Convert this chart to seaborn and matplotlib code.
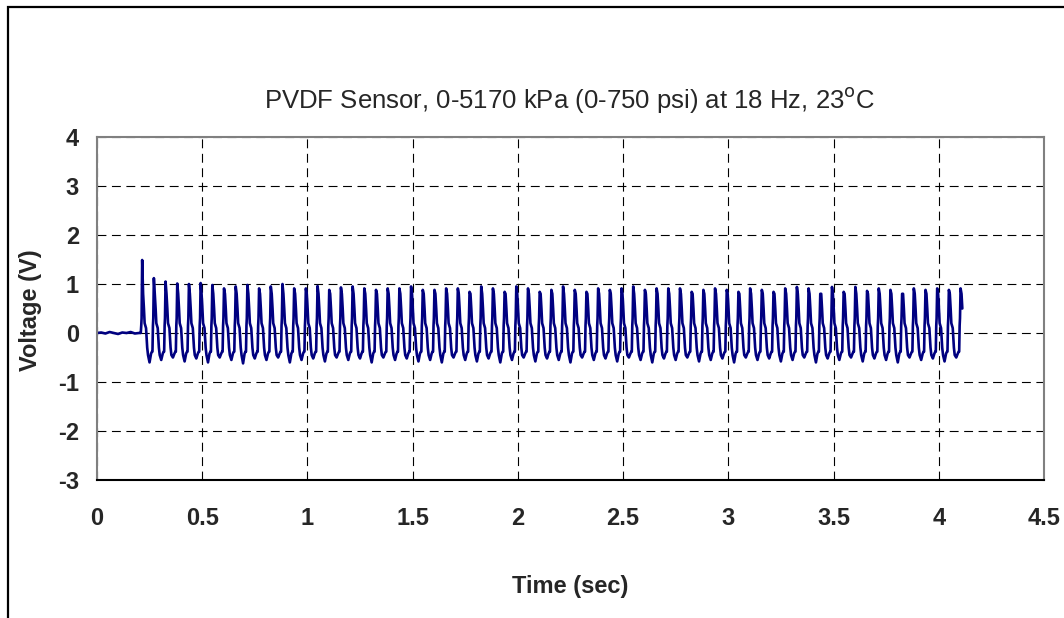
import numpy as np
import pandas as pd
import matplotlib
matplotlib.use("Agg")
import matplotlib.pyplot as plt
from matplotlib.patches import Rectangle
import seaborn as sns

# --- data ------------------------------------------------------------------
FREQ_HZ = 18.0
ONSET = 0.208          # start of first pulse rise (s)

# pre-trigger baseline (approx 0 V with a little noise), 0 .. 0.205 s
baseline_t = [0.0, 0.02, 0.04, 0.06, 0.08, 0.10, 0.12, 0.14, 0.16, 0.18, 0.20, 0.208]
baseline_v = [0.0, 0.01, -0.01, 0.02, 0.0, -0.02, 0.01, 0.0, 0.02, -0.01, 0.0, 0.0]

# per-cycle peak voltage (V), 71 pulses
peaks = [1.49, 1.12, 1.05, 1.01, 1.00, 1.02, 0.98, 0.91, 0.95, 0.98, 0.91, 0.95,
         1.00, 0.91, 0.91, 0.96, 0.88, 0.93, 0.95, 0.91, 0.88, 0.91, 0.91, 0.95,
         0.88, 0.88, 0.91, 0.91, 0.84, 0.95, 0.91, 0.84, 0.95, 0.91, 0.84, 0.88,
         0.95, 0.88, 0.84, 0.91, 0.88, 0.91, 0.95, 0.88, 0.91, 0.91, 0.91, 0.84,
         0.88, 0.91, 0.88, 0.84, 0.91, 0.88, 0.84, 0.91, 0.94, 0.91, 0.80, 0.94,
         0.84, 0.94, 0.86, 0.91, 0.88, 0.80, 0.91, 0.88, 0.91, 0.88, 0.91]

# per-cycle lowest voltage (V)
troughs = [-0.60, -0.55, -0.50, -0.58, -0.52, -0.60, -0.50, -0.55, -0.62, -0.52,
           -0.55, -0.50, -0.60, -0.55, -0.52, -0.58, -0.50, -0.55, -0.52, -0.60,
           -0.50, -0.55, -0.52, -0.58, -0.55, -0.60, -0.50, -0.55, -0.58, -0.52,
           -0.60, -0.55, -0.50, -0.58, -0.52, -0.55, -0.60, -0.50, -0.55, -0.52,
           -0.58, -0.50, -0.55, -0.60, -0.52, -0.55, -0.50, -0.58, -0.55, -0.52,
           -0.60, -0.50, -0.55, -0.52, -0.58, -0.55, -0.50, -0.60, -0.52, -0.55,
           -0.50, -0.58, -0.52, -0.55, -0.60, -0.50, -0.55, -0.52, -0.58, -0.50,
           -0.55]

# shape of one pulse: phase within the cycle and level (str = peak / trough)
cycle_phase = [0.00, 0.04, 0.07, 0.12, 0.20, 0.27, 0.33, 0.45, 0.55,
               0.62, 0.75, 0.88, 0.96]
cycle_level = [-0.38, 0.15, 0.30, "peak", 0.80, 0.50, 0.20, 0.10, -0.30,
               -0.45, "trough", -0.42, -0.38]

# --- build trace ------------------------------------------------------------
t_all = list(baseline_t)
v_all = list(baseline_v)
n = len(peaks)
for k in range(n):
    for ph, lv in zip(cycle_phase, cycle_level):
        if k == n - 1 and ph > 0.27:
            break
        if lv == "peak":
            val = peaks[k]
        elif lv == "trough":
            val = troughs[k]
        else:
            val = lv
        if k == 0 and ph == 0.0:
            val = 0.0
        t_all.append(ONSET + (k + ph) / FREQ_HZ)
        v_all.append(val)

df = pd.DataFrame({"Time (sec)": t_all, "Voltage (V)": v_all})

# --- plot -----------------------------------------------------------------
sns.set_style("white")
plt.rcParams["font.family"] = ["Liberation Sans", "DejaVu Sans"]

fig = plt.figure(figsize=(10.64, 6.18), dpi=100)
ax = fig.add_axes([97 / 1064, 1 - 480 / 618, (1044 - 97) / 1064, (480 - 137) / 618])

sns.lineplot(data=df, x="Time (sec)", y="Voltage (V)", color="#000080",
             linewidth=1.9, estimator=None, sort=False, ax=ax)

ax.set_xlim(0, 4.5)
ax.set_ylim(-3, 4)
ax.set_xticks(np.arange(0, 4.51, 0.5))
ax.set_yticks(np.arange(-3, 4.1, 1))
ax.set_xticklabels(["0", "0.5", "1", "1.5", "2", "2.5", "3", "3.5", "4", "4.5"])
ax.set_yticklabels([str(v) for v in range(-3, 5)])

ax.grid(True, color="black", linestyle=(0, (8, 5)), linewidth=0.8)
ax.set_axisbelow(True)

for side in ["left", "top", "right"]:
    ax.spines[side].set_color("#808080")
    ax.spines[side].set_linewidth(1.5)
ax.spines["bottom"].set_color("black")
ax.spines["bottom"].set_linewidth(1.5)

ax.tick_params(axis="x", direction="inout", length=11, width=1.3, color="black",
               pad=14, labelsize=17)
ax.tick_params(axis="y", direction="inout", length=12, width=1.3, color="#808080",
               pad=7, labelsize=17)
for lab in ax.get_xticklabels() + ax.get_yticklabels():
    lab.set_fontweight("bold")

ax.set_xlabel("Time (sec)", fontsize=17, fontweight="bold", va="center")
ax.set_ylabel("Voltage (V)", fontsize=17, fontweight="bold", va="center")
ax.xaxis.set_label_coords(0.5, (480 - 586) / 343)
ax.yaxis.set_label_coords((30 - 97) / 947, (480 - 310) / 343)

fig.text(570 / 1064, 1 - 100 / 618, "PVDF Sensor, 0-5170 kPa (0-750 psi) at 18 Hz, 23$^{\\mathrm{o}}$C",
         ha="center", va="center", fontsize=18.5)

# outer chart frame (cut off at right and bottom, as in the original)
fig.add_artist(Rectangle((8 / 1064, -0.1), 1.2, 1 - 7 / 618 + 0.1,
                         transform=fig.transFigure, fill=False,
                         edgecolor="black", linewidth=1.6, clip_on=False))

fig.savefig("out.png", dpi=100)
